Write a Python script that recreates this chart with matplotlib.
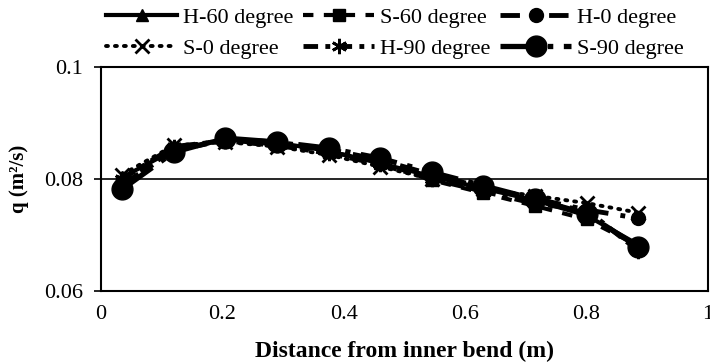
import numpy as np
import matplotlib.pyplot as plt

plt.rcParams['font.family'] = ['Liberation Serif', 'DejaVu Serif']

# distance from inner bend (m)
x = [0.035, 0.12, 0.205, 0.29, 0.375, 0.46, 0.545, 0.63, 0.715, 0.80, 0.885]

h60 = [0.0803, 0.0852, 0.0870, 0.0865, 0.0850, 0.0828, 0.0805, 0.0783, 0.0762, 0.0735, 0.0683]
s60 = [0.0795, 0.0850, 0.0869, 0.0862, 0.0849, 0.0830, 0.0798, 0.0775, 0.0752, 0.0728, 0.0681]
h0 = [0.0790, 0.0850, 0.0872, 0.0866, 0.0853, 0.0834, 0.0808, 0.0785, 0.0765, 0.0745, 0.0730]
s0 = [0.0808, 0.0860, 0.0866, 0.0858, 0.0843, 0.0822, 0.0800, 0.0782, 0.0770, 0.0757, 0.0740]
h90 = [0.0800, 0.0858, 0.0868, 0.0860, 0.0846, 0.0826, 0.0800, 0.0778, 0.0756, 0.0745, 0.0672]
s90 = [0.0782, 0.0848, 0.0873, 0.0866, 0.0855, 0.0837, 0.0812, 0.0788, 0.0764, 0.0738, 0.0679]

fig = plt.figure(figsize=(7.1, 3.63), dpi=100)
ax = fig.add_axes([0.1423, 0.1983, 0.8547, 0.6171])

l1, = ax.plot(x, h60, color='black', lw=3, ls='-', marker='^', ms=9, label='H-60 degree')
l2, = ax.plot(x, s60, color='black', lw=3, ls=(0, (2.5, 2.5)), marker='s', ms=9, label='S-60 degree')
l3, = ax.plot(x, h0, color='black', lw=3.5, ls=(0, (4, 2.5, 1, 2.5)), marker='o', ms=10, label='H-0 degree')
l4, = ax.plot(x, s0, color='black', lw=2.8, ls=(0, (0.5, 1.8)), dash_capstyle='round',
              marker='x', ms=10, mew=2, label='S-0 degree')
l5, = ax.plot(x, h90, color='black', lw=3.5, ls=(0, (3, 1.5, 1, 1.5)), marker=(6, 2, 0), ms=11, mew=2,
              label='H-90 degree')
l6, = ax.plot(x, s90, color='black', lw=3.8, ls=(0, (7, 2, 1, 2)), marker='o', ms=15, label='S-90 degree')

ax.set_xlim(0, 1)
ax.set_ylim(0.06, 0.1)
ax.set_xticks([0, 0.2, 0.4, 0.6, 0.8, 1])
ax.set_xticklabels(['0', '0.2', '0.4', '0.6', '0.8', '1'])
ax.set_yticks([0.06, 0.08, 0.1])
ax.set_yticklabels(['0.06', '0.08', '0.1'])
ax.tick_params(axis='x', length=0, labelsize=16, pad=10)
ax.tick_params(axis='y', length=5, width=1.2, direction='out', labelsize=16, pad=8)
ax.yaxis.grid(True, color='black', lw=1.2)
ax.set_axisbelow(True)
for s in ax.spines.values():
    s.set_linewidth(1.5)

ax.set_xlabel('Distance from inner bend (m)', fontsize=17, fontweight='bold', labelpad=12)
ax.set_ylabel('q (m²/s)', fontsize=15, fontweight='bold', labelpad=11)

handles = [l1, l4, l2, l5, l3, l6]
fig.legend(handles, [h.get_label() for h in handles], ncol=3, loc='upper left',
           bbox_to_anchor=(106 / 710, 1 - 7 / 363), frameon=False, fontsize=16, handlelength=3.2,
           columnspacing=0.45, handletextpad=0.25, labelspacing=0.5, borderpad=0, borderaxespad=0)

fig.savefig('out.png', dpi=100)
